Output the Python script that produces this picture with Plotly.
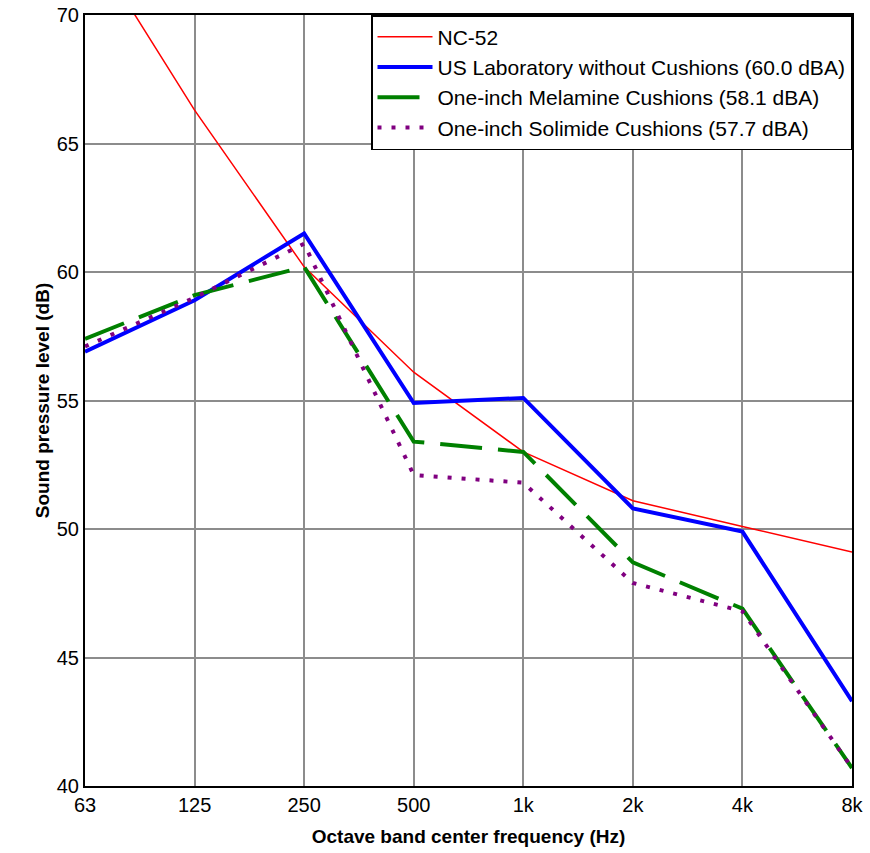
import plotly.graph_objects as go

freq_labels = ["63", "125", "250", "500", "1k", "2k", "4k", "8k"]
nc52 = [73.1, 66.3, 60.2, 56.1, 53.0, 51.1, 50.1, 49.1]
us_lab = [56.9, 58.9, 61.5, 54.9, 55.1, 50.8, 49.9, 43.3]
melamine = [57.4, 59.1, 60.2, 53.4, 53.0, 48.7, 46.9, 40.7]
solimide = [57.1, 59.0, 61.1, 52.1, 51.8, 47.9, 46.8, 40.7]

x = list(range(len(freq_labels)))

fig = go.Figure()
fig.add_trace(go.Scatter(x=x, y=nc52, mode="lines", name="NC-52",
                         line=dict(color="#ff0000", width=1.5)))
fig.add_trace(go.Scatter(x=x, y=us_lab, mode="lines",
                         name="US Laboratory without Cushions (60.0 dBA)",
                         line=dict(color="#0000ff", width=4)))
fig.add_trace(go.Scatter(x=x, y=melamine, mode="lines",
                         name="One-inch Melamine Cushions (58.1 dBA)",
                         line=dict(color="#008000", width=4, dash="42px,16px")))
fig.add_trace(go.Scatter(x=x, y=solimide, mode="lines",
                         name="One-inch Solimide Cushions (57.7 dBA)",
                         line=dict(color="#800080", width=4, dash="4px,10px")))

font_main = "Liberation Sans, Arial, sans-serif"
title_font = dict(family="Liberation Sans, Arial", size=19, color="black")

fig.update_layout(
    width=870, height=853,
    margin=dict(l=85, r=18, t=15, b=67, autoexpand=False),
    paper_bgcolor="white", plot_bgcolor="white",
    font=dict(family=font_main, size=20, color="black"),
    showlegend=True,
    legend=dict(x=1, y=1, xanchor="right", yanchor="top",
                bgcolor="white", bordercolor="black", borderwidth=1.5,
                font=dict(family=font_main, size=21, color="black"),
                itemwidth=55, tracegroupgap=0),
    xaxis=dict(range=[0, 7], tickmode="array", tickvals=x, ticktext=freq_labels,
               showgrid=True, gridcolor="#8c8c8c", gridwidth=1.5,
               showline=True, linecolor="black", linewidth=2, mirror=True,
               ticks="", zeroline=False, tickfont=dict(size=20), automargin=False,
               title=dict(text="<b>Octave band center frequency (Hz)</b>", font=title_font)),
    yaxis=dict(range=[40, 70], tickmode="array", tickvals=[40, 45, 50, 55, 60, 65, 70],
               showgrid=True, gridcolor="#8c8c8c", gridwidth=1.5,
               showline=True, linecolor="black", linewidth=2, mirror=True,
               ticks="", zeroline=False, tickfont=dict(size=20), automargin=False,
               title=dict(text="<b>Sound pressure level (dB)</b>", font=title_font, standoff=2)),
)

fig.write_html("out.html")
